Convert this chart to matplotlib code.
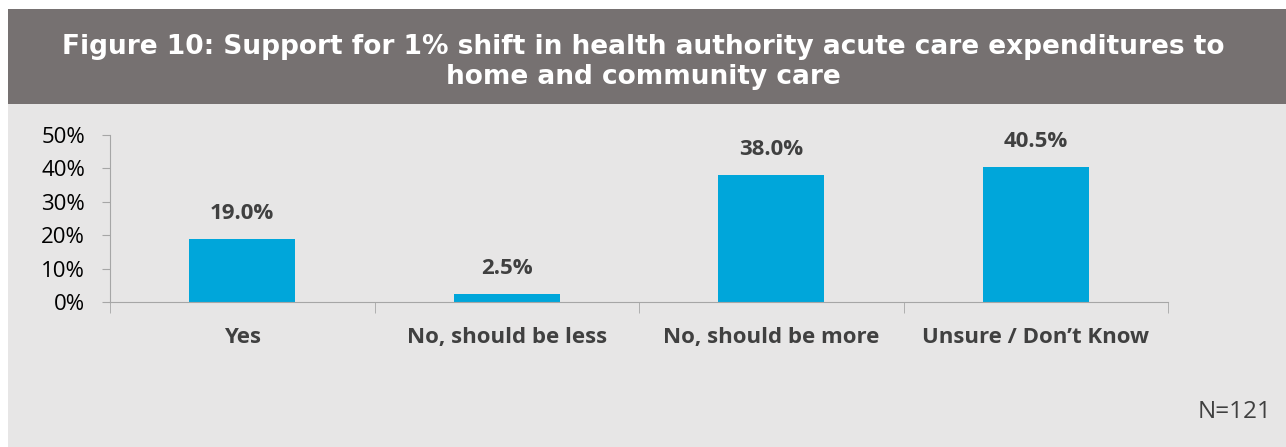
import matplotlib.pyplot as plt
from matplotlib.patches import Rectangle
import numpy as np

categories = ["Yes", "No, should be less", "No, should be more", "Unsure / Don\u2019t Know"]
values = [19.0, 2.5, 38.0, 40.5]
yticks = [0, 10, 20, 30, 40, 50]

BAR = "#00A6DA"
BG = "#E7E6E6"
HEAD = "#767171"
TXT = "#404040"

fig = plt.figure(figsize=(12.86, 4.47), dpi=100)
fig.patch.set_facecolor("white")

# grey panel and title band
fig.patches.append(Rectangle((8 / 1286, 0), 1, 1 - 104 / 447, transform=fig.transFigure,
                             facecolor=BG, edgecolor="none", zorder=-5))
fig.patches.append(Rectangle((8 / 1286, 1 - 104 / 447), 1, (104 - 9) / 447, transform=fig.transFigure,
                             facecolor=HEAD, edgecolor="none", zorder=-5))
fig.text(0.5, 1 - 62 / 447,
         "Figure 10: Support for 1% shift in health authority acute care expenditures to\nhome and community care",
         ha="center", va="center", color="white", fontsize=19, fontweight="bold",
         family="DejaVu Sans", linespacing=1.25)

ax = fig.add_axes([110 / 1286, 1 - 302 / 447, (1168 - 110) / 1286, (302 - 135) / 447])
ax.set_facecolor("none")
x = np.arange(len(categories))
ax.bar(x, values, width=0.4, color=BAR, zorder=2)
for xi, v in zip(x, values):
    ax.text(xi, v + 4.5, f"{v:.1f}%", ha="center", va="bottom", fontsize=16,
            fontweight="bold", color=TXT, family="Open Sans")

ax.set_xlim(-0.5, len(categories) - 0.5)
ax.set_ylim(0, 50)
ax.set_yticks(yticks)
ax.set_yticklabels([f"{t}%" for t in yticks], fontsize=16, color="black", family="Open Sans")
ax.set_xticks(x)
ax.set_xticklabels(categories, fontsize=16, fontweight="bold", color=TXT, family="Open Sans")
ax.tick_params(axis="x", length=0, pad=18)
ax.tick_params(axis="y", length=6, color="#A6A6A6", pad=12)
ax.set_xticks(np.arange(len(categories) + 1) - 0.5, minor=True)
ax.tick_params(axis="x", which="minor", length=8, color="#A6A6A6", direction="out")
for s in ["top", "right"]:
    ax.spines[s].set_visible(False)
ax.spines["left"].set_color("#A6A6A6")
ax.spines["bottom"].set_color("#A6A6A6")

fig.text(1272 / 1286, 1 - 412 / 447, "N=121", ha="right", va="center", fontsize=17.5,
         color=TXT, family="Open Sans")

fig.savefig("out.png", dpi=100, facecolor=fig.get_facecolor())
